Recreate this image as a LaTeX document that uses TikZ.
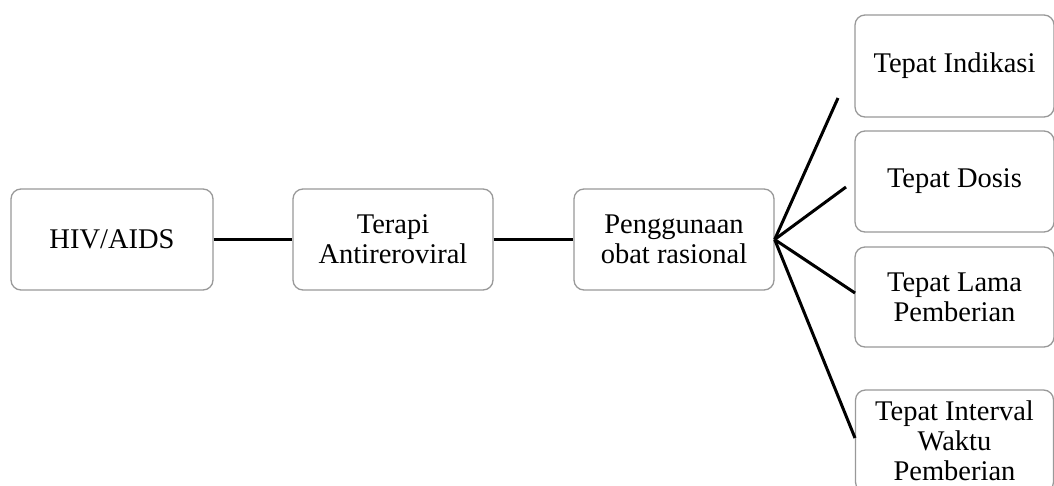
\documentclass[tikz,border=0pt]{standalone}
\usepackage{fontspec}
\setmainfont{Liberation Serif}
\usepackage{tikz}

\tikzset{
  kotak/.style={draw=gray!80, line width=1.3pt, rounded corners=10pt, fill=white,
    align=center, inner sep=0pt, font=\fontsize{28.5}{30}\selectfont},
  garis/.style={line width=3pt, black}
}

\begin{document}
\begin{tikzpicture}[x=1pt, y=-1pt]
				\clip (0,0) rectangle (1054,485);
				\fill[white] (0,0) rectangle (1054,485);
				
				% Main chain
				\node[kotak, minimum width=202pt, minimum height=101pt] (hiv) at (112, 239.5) {HIV/AIDS};
				\node[kotak, minimum width=200pt, minimum height=101pt] (terapi) at (393, 239.5) {Terapi\\Antireroviral};
				\node[kotak, minimum width=200pt, minimum height=101pt] (obat) at (674, 239.5) {Penggunaan\\obat rasional};
				
				% Right column
				\node[kotak, minimum width=199pt, minimum height=102pt] (indikasi) at (954.5, 66) {Tepat Indikasi};
				\node[kotak, minimum width=199pt, minimum height=101pt] (dosis) at (954.5, 181.5) {Tepat Dosis};
				\node[kotak, minimum width=199pt, minimum height=100pt] (lama) at (954.5, 297) {Tepat Lama\\Pemberian};
				\node[kotak, minimum width=198pt, minimum height=102pt] (interval) at (954.5, 441) {Tepat Interval\\Waktu\\Pemberian};
				
				% Line ends
				\coordinate (ujungA) at (838, 98);
				\coordinate (ujungB) at (846, 187);
				\coordinate (ujungC) at (855, 293);
				\coordinate (ujungD) at (855, 438);
				
				% Connectors
				\draw[garis] (hiv.east) -- (terapi.west);
				\draw[garis] (terapi.east) -- (obat.west);
				\draw[garis] (obat.east) -- (ujungA); % to Tepat Indikasi
				\draw[garis] (obat.east) -- (ujungB); % to Tepat Dosis
				\draw[garis] (obat.east) -- (ujungC); % to Tepat Lama
				\draw[garis] (obat.east) -- (ujungD); % to Tepat Interval
			\end{tikzpicture}
\end{document}
